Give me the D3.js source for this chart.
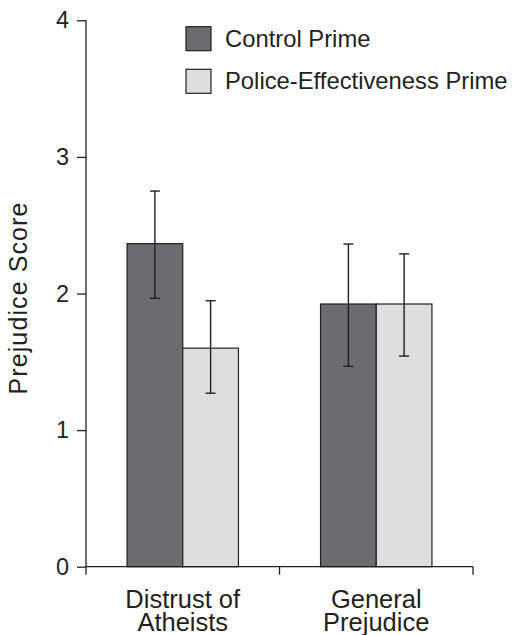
<!DOCTYPE html>
<html>
<head>
<meta charset="utf-8">
<script src="https://cdn.jsdelivr.net/npm/d3@7"></script>
<style>
  html, body { margin: 0; padding: 0; background: #ffffff; }
  svg text { font-family: "Liberation Sans", Arial, Helvetica, sans-serif; fill: #231f20; }
</style>
</head>
<body>
<svg id="chart" width="513" height="635"></svg>
<script>
const categories = ["Distrust of Atheists", "General Prejudice"];
const categoryLines = [["Distrust of", "Atheists"], ["General", "Prejudice"]];
const seriesNames = ["Control Prime", "Police-Effectiveness Prime"];
const controlMeans = [2.365, 1.923];
const controlLow = [1.965, 1.467];
const controlHigh = [2.75, 2.362];
const policeMeans = [1.60, 1.923];
const policeLow = [1.27, 1.542];
const policeHigh = [1.947, 2.29];
const yTicks = [0, 1, 2, 3, 4];
const yLabel = "Prejudice Score";
const colors = ["#6b6c70", "#dcdddf"];

const svg = d3.select("#chart");
const ink = "#231f20";

const y = d3.scaleLinear().domain([0, 4]).range([566.7, 20.3]);
const x0 = d3.scaleBand().domain(categories).range([86, 473]).paddingInner(0).paddingOuter(0);
const x1 = d3.scaleBand().domain(seriesNames).range([0, x0.bandwidth()]).paddingInner(0).paddingOuter(0.737);

const rows = categories.map((c, i) => ({
  cat: c,
  vals: [
    { s: seriesNames[0], v: controlMeans[i], lo: controlLow[i], hi: controlHigh[i], col: colors[0] },
    { s: seriesNames[1], v: policeMeans[i], lo: policeLow[i], hi: policeHigh[i], col: colors[1] }
  ]
}));

// bars
const g = svg.append("g").selectAll("g").data(rows).join("g")
  .attr("transform", d => `translate(${x0(d.cat)},0)`);
g.selectAll("rect").data(d => d.vals).join("rect")
  .attr("x", d => x1(d.s))
  .attr("y", d => y(d.v))
  .attr("width", x1.bandwidth())
  .attr("height", d => y(0) - y(d.v))
  .attr("fill", d => d.col)
  .attr("stroke", ink)
  .attr("stroke-width", 1.2);

// error bars
const eb = g.selectAll("g.err").data(d => d.vals).join("g").attr("class", "err");
const cx = d => x1(d.s) + x1.bandwidth() / 2;
eb.append("line").attr("x1", cx).attr("x2", cx).attr("y1", d => y(d.hi)).attr("y2", d => y(d.lo))
  .attr("stroke", ink).attr("stroke-width", 1.4);
eb.append("line").attr("x1", d => cx(d) - 5).attr("x2", d => cx(d) + 5).attr("y1", d => y(d.hi)).attr("y2", d => y(d.hi))
  .attr("stroke", ink).attr("stroke-width", 1.4);
eb.append("line").attr("x1", d => cx(d) - 5).attr("x2", d => cx(d) + 5).attr("y1", d => y(d.lo)).attr("y2", d => y(d.lo))
  .attr("stroke", ink).attr("stroke-width", 1.4);

// y axis
const yAxis = svg.append("g").attr("transform", "translate(86,0)")
  .call(d3.axisLeft(y).tickValues(yTicks).tickFormat(d3.format("d")).tickSize(9).tickPadding(8));
yAxis.select(".domain").attr("d", `M0,${y(4)}V${y(0)}`).attr("stroke", ink).attr("stroke-width", 1.3);
yAxis.selectAll(".tick line").attr("stroke", ink).attr("stroke-width", 1.3);
yAxis.selectAll(".tick text").attr("font-size", 23.5).attr("font-family", "Liberation Sans, Arial, sans-serif").attr("fill", ink);

// x axis
const xTickPos = [86, 473].concat(categories.slice(1).map(c => x0(c)));
const xAxis = svg.append("g").attr("transform", `translate(0,${y(0)})`);
xAxis.append("line").attr("x1", 86).attr("x2", 473).attr("stroke", ink).attr("stroke-width", 1.3);
xAxis.selectAll("line.t").data(xTickPos).join("line").attr("class", "t")
  .attr("x1", d => d).attr("x2", d => d).attr("y1", 0).attr("y2", 8)
  .attr("stroke", ink).attr("stroke-width", 1.3);

// category labels
const cl = svg.append("g").selectAll("text").data(categories).join("text")
  .attr("text-anchor", "middle")
  .attr("font-size", 25.5)
  .attr("x", d => x0(d) + x0.bandwidth() / 2)
  .attr("y", 607.5);
cl.selectAll("tspan").data((d, i) => categoryLines[i]).join("tspan")
  .attr("x", function() { return d3.select(this.parentNode).attr("x"); })
  .attr("dy", (d, i) => i === 0 ? 0 : 23)
  .text(d => d);

// y label
svg.append("text")
  .attr("transform", "translate(26.5,298) rotate(-90)")
  .attr("text-anchor", "middle")
  .attr("font-size", 25)
  .attr("letter-spacing", 1.1)
  .text(yLabel);

// legend
const lg = svg.append("g").selectAll("g").data(seriesNames).join("g")
  .attr("transform", (d, i) => `translate(186,${26.7 + i * 42.6})`);
lg.append("rect").attr("width", 25).attr("height", 24)
  .attr("fill", (d, i) => colors[i]).attr("stroke", ink).attr("stroke-width", 1.2);
lg.append("text").attr("x", 39).attr("y", 19.8).attr("font-size", 23.8).text(d => d);
</script>
</body>
</html>
